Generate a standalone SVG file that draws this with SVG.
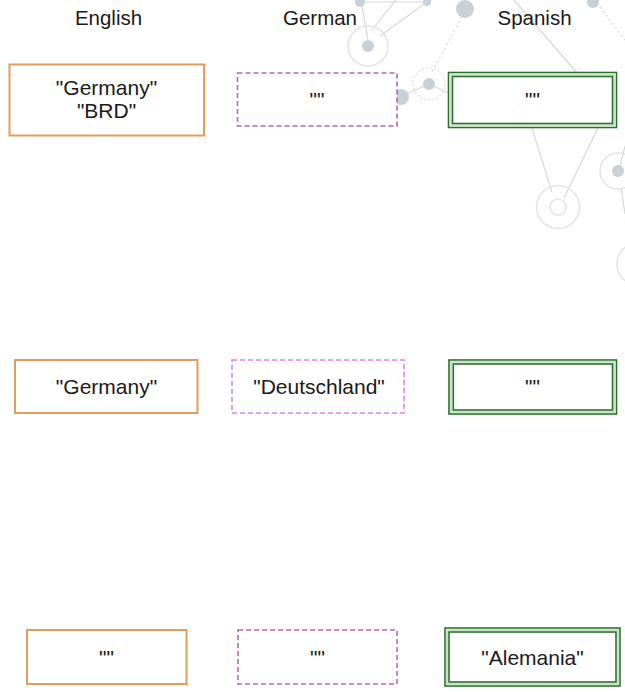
<svg xmlns="http://www.w3.org/2000/svg" width="625" height="692" viewBox="0 0 625 692">
  <style>
    text { font-family: "Liberation Sans", Arial, Helvetica, sans-serif; fill: #1a1a1a; text-anchor: middle; }
    .head { font-size: 20.5px; }
    .lbl { font-size: 21px; }
    .en { fill: #ffffff; stroke: #e39c60; stroke-width: 2; }
    .de { fill: #ffffff; stroke: #b866b8; stroke-width: 1.6; stroke-dasharray: 5 3; }
    .de2 { stroke: #e283e2; }
    .es-out { fill: #ffffff; stroke: #2f6e2f; stroke-width: 1.6; }
    .es-mid { fill: none; stroke: #c4e6c4; stroke-width: 2.2; }
    .es-in { fill: none; stroke: #2f6e2f; stroke-width: 1.6; }
    .net-line { stroke: #d6d9db; stroke-width: 1.2; fill: none; }
    .net-dot-line { stroke: #d6d9db; stroke-width: 1.2; fill: none; stroke-dasharray: 2 3; }
    .net-ring { stroke: #e2e4e6; stroke-width: 1.5; fill: none; }
    .net-ring-dot { stroke: #e2e4e6; stroke-width: 1.5; fill: none; stroke-dasharray: 2 2; }
    .net-node { fill: #c8d1d7; }
  </style>

  <rect x="0" y="0" width="625" height="692" fill="#ffffff"/>

  <!-- faint network decoration in the upper right -->
  <g id="background-network">
    <line class="net-line" x1="360" y1="2" x2="427" y2="2"/>
    <line class="net-line" x1="362" y1="6" x2="368" y2="40"/>
    <line class="net-line" x1="372" y1="30" x2="396" y2="0"/>
    <line class="net-line" x1="380" y1="36" x2="427" y2="2"/>
    <line class="net-dot-line" x1="462" y1="17" x2="432" y2="72"/>
    <line class="net-line" x1="429" y1="84" x2="402" y2="96"/>
    <line class="net-line" x1="429" y1="84" x2="450" y2="94"/>
    <line class="net-line" x1="514" y1="0" x2="578" y2="74"/>
    <line class="net-dot-line" x1="597" y1="3" x2="625" y2="40"/>
    <line class="net-line" x1="532" y1="128" x2="552" y2="192"/>
    <line class="net-line" x1="598" y1="128" x2="564" y2="198"/>
    <line class="net-line" x1="625" y1="146" x2="620" y2="166"/>
    <line class="net-line" x1="621" y1="188" x2="625" y2="214"/>

    <circle class="net-ring" cx="368" cy="46" r="20"/>
    <circle class="net-ring-dot" cx="429" cy="84" r="16"/>
    <circle class="net-ring" cx="558" cy="207" r="21.5"/>
    <circle class="net-ring" cx="558" cy="207" r="8"/>
    <circle class="net-ring" cx="618" cy="171" r="18"/>
    <circle class="net-ring" cx="638" cy="264" r="21"/>

    <circle class="net-node" cx="360" cy="2" r="5"/>
    <circle class="net-node" cx="427" cy="2" r="4"/>
    <circle class="net-node" cx="465" cy="9" r="9"/>
    <circle class="net-node" cx="593" cy="2" r="6"/>
    <circle class="net-node" cx="368" cy="46" r="6"/>
    <circle class="net-node" cx="429" cy="84" r="6"/>
    <circle class="net-node" cx="401" cy="97" r="8"/>
    <circle class="net-node" cx="618" cy="171" r="6"/>
  </g>

  <!-- column headings -->
  <g id="headers">
    <text class="head" x="108.5" y="25">English</text>
    <text class="head" x="320" y="25">German</text>
    <text class="head" x="534.5" y="25">Spanish</text>
  </g>

  <!-- no connectors between the cells -->
  <g id="connectors"/>

  <!-- row 1 -->
  <g id="en-1">
    <rect class="en" x="9.5" y="64.5" width="194.5" height="71"/>
    <text class="lbl" x="106.5" y="94.5">"Germany"</text>
    <text class="lbl" x="106.5" y="117.5">"BRD"</text>
  </g>
  <g id="de-1">
    <rect class="de" x="237.5" y="73" width="159.5" height="53"/>
    <text class="lbl" x="317" y="107">""</text>
  </g>
  <g id="es-1">
    <rect class="es-out" x="448.5" y="72.5" width="168" height="55"/>
    <rect class="es-mid" x="450.5" y="74.5" width="164" height="51"/>
    <rect class="es-in" x="452.5" y="76.5" width="160" height="47"/>
    <text class="lbl" x="532.5" y="107">""</text>
  </g>

  <!-- row 2 -->
  <g id="en-2">
    <rect class="en" x="15" y="360" width="182.5" height="53"/>
    <text class="lbl" x="106.5" y="394">"Germany"</text>
  </g>
  <g id="de-2">
    <rect class="de de2" x="232" y="360" width="172" height="53"/>
    <text class="lbl" x="319" y="394">"Deutschland"</text>
  </g>
  <g id="es-2">
    <rect class="es-out" x="449" y="360" width="167.5" height="54"/>
    <rect class="es-mid" x="451.2" y="362" width="163.2" height="50"/>
    <rect class="es-in" x="453.3" y="364" width="159.2" height="46"/>
    <text class="lbl" x="532.5" y="394">""</text>
  </g>

  <!-- row 3 -->
  <g id="en-3">
    <rect class="en" x="27" y="630" width="159.5" height="54"/>
    <text class="lbl" x="106.5" y="664.5">""</text>
  </g>
  <g id="de-3">
    <rect class="de" x="238" y="630" width="159" height="54"/>
    <text class="lbl" x="317.5" y="664.5">""</text>
  </g>
  <g id="es-3">
    <rect class="es-out" x="445" y="628" width="175" height="58"/>
    <rect class="es-mid" x="447" y="630" width="171" height="54"/>
    <rect class="es-in" x="449" y="632" width="167" height="50"/>
    <text class="lbl" x="532.5" y="664.5">"Alemania"</text>
  </g>
</svg>
